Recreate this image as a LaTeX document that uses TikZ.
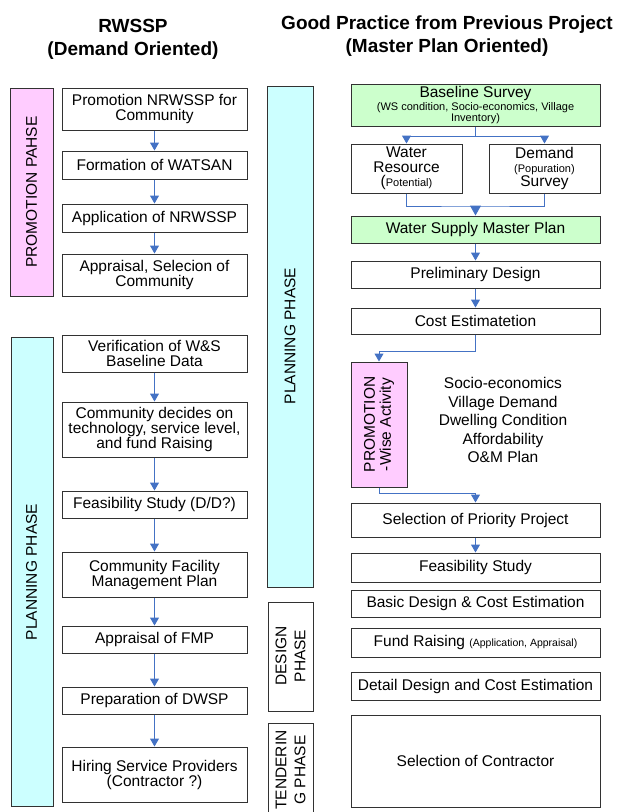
\documentclass[tikz,border=0pt]{standalone}
\usepackage{fontspec}
\setmainfont{Liberation Sans}
\usetikzlibrary{arrows.meta}
\definecolor{arrowblue}{RGB}{68,114,196}
\definecolor{pinkfill}{RGB}{255,204,255}
\definecolor{cyanfill}{RGB}{204,255,255}
\definecolor{greenfill}{RGB}{204,255,204}
\definecolor{edge}{RGB}{50,50,50}
\tikzset{
  box/.style={draw=edge, line width=1pt, fill=white, inner sep=0pt, align=center,
    font=\fontsize{15.5}{15}\selectfont},
  lbox/.style={box, minimum width=185pt},
  rbox/.style={box, minimum width=249pt},
  phasebox/.style={draw=edge, line width=1pt, inner sep=0pt},
  phaselabel/.style={rotate=90, align=center, font=\fontsize{15.5}{19}\selectfont},
  title/.style={align=center, font=\fontsize{19}{23}\selectfont\bfseries},
  arr/.style={draw=arrowblue, line width=1pt, -{Triangle[width=9pt,length=8pt]}},
  bigarr/.style={draw=arrowblue, line width=1pt, -{Triangle[width=11pt,length=10pt]}},
  plainline/.style={draw=arrowblue, line width=1pt},
  small/.style={font=\fontsize{11}{11}\selectfont}
}
\begin{document}
\begin{tikzpicture}[x=1pt,y=-1pt]
\useasboundingbox (0,0) rectangle (617,812);
% titles
\node[title] (t1) at (133,39.5) {RWSSP\\(Demand Oriented)};
\node[title] (t2) at (447,36) {Good Practice from Previous Project\\(Master Plan Oriented)};

% left phase boxes
\node[phasebox, fill=pinkfill, minimum width=43pt, minimum height=208pt] (pp) at (31.5,192) {};
\node[phaselabel, font=\fontsize{15.5}{19}\selectfont] (ppl) at (31.5,192) {PROMOTION PAHSE};
\node[phasebox, fill=cyanfill, minimum width=42pt, minimum height=469pt] (lp) at (32,571.5) {};
\node[phaselabel] (lpl) at (31.5,572) {PLANNING PHASE};

% left boxes
\node[lbox, minimum height=42pt] (L1) at (154.5,109) {Promotion NRWSSP for\\Community};
\node[lbox, minimum height=28pt] (L2) at (154.5,165) {Formation of WATSAN};
\node[lbox, minimum height=28pt] (L3) at (154.5,218) {Application of NRWSSP};
\node[lbox, minimum height=42pt] (L4) at (154.5,275) {Appraisal, Selecion of\\Community};
\node[lbox, minimum height=37pt] (L5) at (154.5,353.5) {Verification of W\&S\\Baseline Data};
\node[lbox, minimum height=55pt] (L6) at (154.5,429.5) {Community decides on\\technology, service level,\\and fund Raising};
\node[lbox, minimum height=27pt] (L7) at (154.5,504.5) {Feasibility Study (D/D?)};
\node[lbox, minimum height=45pt] (L8) at (154.5,574.5) {Community Facility\\Management Plan};
\node[lbox, minimum height=27pt] (L9) at (154.5,639.5) {Appraisal of FMP};
\node[lbox, minimum height=27pt] (L10) at (154.5,700.5) {Preparation of DWSP};
\node[lbox, minimum height=55pt] (L11) at (154.5,774.5) {Hiring Service Providers\\(Contractor ?)};

\draw[arr] (L1.south) -- (L2.north);
\draw[arr] (L2.south) -- (L3.north);
\draw[arr] (L3.south) -- (L4.north);
\draw[arr] (L5.south) -- (L6.north);
\draw[arr] (L6.south) -- (L7.north);
\draw[arr] (L7.south) -- (L8.north);
\draw[arr] (L8.south) -- (L9.north);
\draw[arr] (L9.south) -- (L10.north);
\draw[arr] (L10.south) -- (L11.north);

% right phase boxes
\node[phasebox, fill=cyanfill, minimum width=46pt, minimum height=501pt] (rp) at (290,336.5) {};
\node[phaselabel] (rpl) at (290,336) {PLANNING PHASE};
\node[phasebox, fill=white, minimum width=45pt, minimum height=109pt] (dp) at (290.5,656.5) {};
\node[phaselabel] (dpl) at (290.5,656) {DESIGN\\PHASE};
\node[phasebox, fill=white, minimum width=45pt, minimum height=100pt] (tp) at (290.5,773) {};
\node[phaselabel] (tpl) at (290.5,770) {TENDERIN\\G PHASE};

% right boxes
\node[rbox, fill=greenfill, minimum height=42pt] (B) at (475.5,105) {Baseline Survey\\[-2pt]{\fontsize{11}{10}\selectfont (WS condition, Socio-economics, Village}\\[-4pt]{\fontsize{11}{10}\selectfont Inventory)}};
\node[box, minimum width=111pt, minimum height=49pt] (WR) at (406.5,168.5) {Water\\Resource\\[-1pt]({\fontsize{11}{11}\selectfont Potential)}};
\node[box, minimum width=111pt, minimum height=49pt] (DS) at (544.5,168.5) {Demand\\[-1pt]{\fontsize{11}{11}\selectfont (Popuration)}\\[-1pt]Survey};
\node[rbox, fill=greenfill, minimum height=27pt] (WS) at (475.5,229.5) {Water Supply Master Plan};
\node[rbox, minimum height=27pt] (PD) at (475.5,274.5) {Preliminary Design};
\node[rbox, minimum height=26pt] (CE) at (475.5,321) {Cost Estimatetion};
\node[box, fill=pinkfill, minimum width=56pt, minimum height=125pt] (PW) at (379,424.5) {};
\node[rotate=90, align=center, font=\fontsize{15.5}{16}\selectfont] (PWl) at (379,424.5) {PROMOTION\\-Wise Activity};
\node[align=center, font=\fontsize{15.5}{18.5}\selectfont] (SE) at (503,420) {Socio-economics\\Village Demand\\Dwelling Condition\\Affordability\\O\&M Plan};
\node[rbox, minimum height=34pt] (SP) at (475.5,520) {Selection of Priority Project};
\node[rbox, minimum height=29pt] (FS) at (475.5,567.5) {Feasibility Study};
\node[rbox, minimum height=27pt] (BD) at (475.5,603.5) {Basic Design \& Cost Estimation};
\node[rbox, minimum height=29pt] (FR) at (475.5,642.5) {Fund Raising {\fontsize{10.5}{10.5}\selectfont (Application, Appraisal)}};
\node[rbox, minimum height=28pt] (DD) at (475.5,686) {Detail Design and Cost Estimation};
\node[rbox, minimum height=92pt] (SC) at (475.5,761) {Selection of Contractor};

\coordinate (j1) at (475.5,136);
\coordinate (j2) at (475.5,206);
\draw[plainline] (B.south) -- (j1);
\draw[arr] (j1) -| (WR.north);
\draw[arr] (j1) -| (DS.north);
\draw[plainline] (WR.south) |- (j2) -| (DS.south);
\draw[bigarr] (j2) -- (WS.north);
\draw[arr] (WS.south) -- (PD.north);
\draw[arr] (PD.south) -- (CE.north);
\draw[arr] (CE.south) -- ++(0,17) -| (PW.north);
\draw[arr] (PW.south) -- ++(0,6) -| (SP.north);
\draw[arr] (SP.south) -- (FS.north);
\end{tikzpicture}
\end{document}
